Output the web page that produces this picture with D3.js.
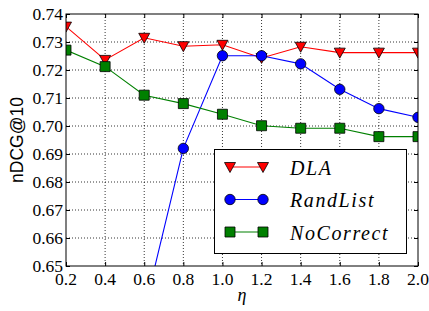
<!DOCTYPE html>
<html>
<head>
<meta charset="utf-8">
<script src="https://cdn.jsdelivr.net/npm/d3@7"></script>
<style>
  body { margin: 0; background: #fff; }
  svg { display: block; }
  .tick-label { font-family: "Liberation Serif", "Times New Roman", serif; font-size: 17.5px; fill: #000; }
  .serif-it { font-family: "Liberation Serif", "Times New Roman", serif; font-style: italic; }
</style>
</head>
<body>
<div id="chart"></div>
<script>
var etas = [0.2, 0.4, 0.6, 0.8, 1.0, 1.2, 1.4, 1.6, 1.8, 2.0];
var dla = [0.7355, 0.7236, 0.7315, 0.7285, 0.729, 0.7243, 0.7283, 0.7262, 0.7262, 0.7262];
var randList = [null, null, 0.634, 0.692, 0.7251, 0.7251, 0.7222, 0.7131, 0.7062, 0.7031];
var noCorrect = [0.7271, 0.7212, 0.711, 0.708, 0.7042, 0.7001, 0.6992, 0.6992, 0.6962, 0.6962];

var xTicks = [0.2, 0.4, 0.6, 0.8, 1.0, 1.2, 1.4, 1.6, 1.8, 2.0];
var yTicks = [0.65, 0.66, 0.67, 0.68, 0.69, 0.70, 0.71, 0.72, 0.73, 0.74];

var seriesNames = ["DLA", "RandList", "NoCorrect"];
var seriesColors = ["#ff0000", "#0000ff", "#008000"];
var seriesShapes = ["tri", "circle", "square"];

var width = 429, height = 311;
var margin = { top: 14, right: 11, bottom: 45, left: 66 };

var series = [dla, randList, noCorrect].map(function (vals, i) {
  return {
    name: seriesNames[i],
    color: seriesColors[i],
    shape: seriesShapes[i],
    values: etas.map((e, j) => ({ eta: e, value: vals[j] }))
  };
});

var x = d3.scaleLinear().domain([0.2, 2.0]).range([margin.left, width - margin.right]);
var y = d3.scaleLinear().domain([0.65, 0.74]).range([height - margin.bottom, margin.top]);

var svg = d3.select("#chart").append("svg")
  .attr("width", width)
  .attr("height", height);

svg.append("clipPath").attr("id", "plot-clip")
  .append("rect")
  .attr("x", margin.left).attr("y", margin.top)
  .attr("width", width - margin.left - margin.right)
  .attr("height", height - margin.top - margin.bottom);

/* grid */
var grid = svg.append("g")
  .attr("stroke", "#000")
  .attr("stroke-width", 0.8)
  .attr("stroke-dasharray", "1,2");
grid.selectAll(".gx").data(xTicks.slice(1, -1)).join("line")
  .attr("x1", d => x(d)).attr("x2", d => x(d))
  .attr("y1", margin.top).attr("y2", height - margin.bottom);
grid.selectAll(".gy").data(yTicks.slice(1, -1)).join("line")
  .attr("x1", margin.left).attr("x2", width - margin.right)
  .attr("y1", d => y(d)).attr("y2", d => y(d));

/* axes, ticks inward on all four sides */
var tickLen = 4;
svg.append("g").attr("transform", `translate(0,${height - margin.bottom})`)
  .call(d3.axisBottom(x).tickValues(xTicks).tickSize(-tickLen).tickFormat(""))
  .call(g => g.select(".domain").remove());
svg.append("g").attr("transform", `translate(0,${margin.top})`)
  .call(d3.axisTop(x).tickValues(xTicks).tickSize(-tickLen).tickFormat(""))
  .call(g => g.select(".domain").remove());
svg.append("g").attr("transform", `translate(${margin.left},0)`)
  .call(d3.axisLeft(y).tickValues(yTicks).tickSize(-tickLen).tickFormat(""))
  .call(g => g.select(".domain").remove());
svg.append("g").attr("transform", `translate(${width - margin.right},0)`)
  .call(d3.axisRight(y).tickValues(yTicks).tickSize(-tickLen).tickFormat(""))
  .call(g => g.select(".domain").remove());

svg.selectAll(".xlab").data(xTicks).join("text")
  .attr("class", "tick-label")
  .attr("x", d => x(d)).attr("y", 285)
  .attr("text-anchor", "middle")
  .text(d => d3.format(".1f")(d));

svg.selectAll(".ylab").data(yTicks).join("text")
  .attr("class", "tick-label")
  .attr("x", margin.left - 3).attr("y", d => y(d))
  .attr("dy", "0.35em")
  .attr("text-anchor", "end")
  .text(d => d3.format(".2f")(d));

/* lines and markers */
var line = d3.line()
  .defined(d => d.value != null)
  .x(d => x(d.eta))
  .y(d => y(d.value));

function symbolPath(shape) {
  if (shape == "tri") return "M-5.5,-4.5L5.5,-4.5L0,5.5Z";
  if (shape == "square") return "M-5,-5L5,-5L5,5L-5,5Z";
  return d3.symbol(d3.symbolCircle, Math.PI * 5.2 * 5.2)();
}

var plot = svg.append("g").attr("clip-path", "url(#plot-clip)");

plot.selectAll(".line").data(series).join("path")
  .attr("fill", "none")
  .attr("stroke", d => d.color)
  .attr("stroke-width", 1.1)
  .attr("d", d => line(d.values));

series.forEach(function (s) {
  plot.append("g").selectAll("path")
    .data(s.values.filter(d => d.value != null))
    .join("path")
    .attr("transform", d => `translate(${x(d.eta)},${y(d.value)})`)
    .attr("d", symbolPath(s.shape))
    .attr("fill", s.color)
    .attr("stroke", "#000")
    .attr("stroke-width", 0.8);
});

/* frame */
svg.append("rect")
  .attr("x", margin.left).attr("y", margin.top)
  .attr("width", width - margin.left - margin.right)
  .attr("height", height - margin.top - margin.bottom)
  .attr("fill", "none")
  .attr("stroke", "#000")
  .attr("stroke-width", 1);

/* legend */
var legend = svg.append("g");
legend.append("rect")
  .attr("x", 214.5).attr("y", 149.5)
  .attr("width", 192).attr("height", 104)
  .attr("fill", "#fff")
  .attr("stroke", "#000")
  .attr("stroke-width", 1);

var rows = legend.selectAll(".row").data(series).join("g")
  .attr("transform", (d, i) => `translate(0,${167 + i * 32.5})`);
rows.append("line")
  .attr("x1", 230).attr("x2", 263)
  .attr("stroke", d => d.color)
  .attr("stroke-width", 1.1);
rows.each(function (d) {
  d3.select(this).selectAll(".m").data([230, 263]).join("path")
    .attr("transform", px => `translate(${px},0)`)
    .attr("d", symbolPath(d.shape))
    .attr("fill", d.color)
    .attr("stroke", "#000")
    .attr("stroke-width", 0.8);
});
rows.append("text")
  .attr("class", "serif-it")
  .attr("x", 290).attr("y", 7.5)
  .attr("font-size", 20)
  .attr("letter-spacing", 1.6)
  .text(d => d.name);

/* axis titles */
svg.append("text")
  .attr("class", "serif-it")
  .attr("x", x(1.1)).attr("y", 301)
  .attr("text-anchor", "middle")
  .attr("font-size", 18)
  .text("η");

svg.append("text")
  .attr("transform", "translate(23,140) rotate(-90)")
  .attr("text-anchor", "middle")
  .attr("font-family", "Liberation Sans, Arial, sans-serif")
  .attr("font-size", 17.5)
  .text("nDCG@10");
</script>
</body>
</html>
